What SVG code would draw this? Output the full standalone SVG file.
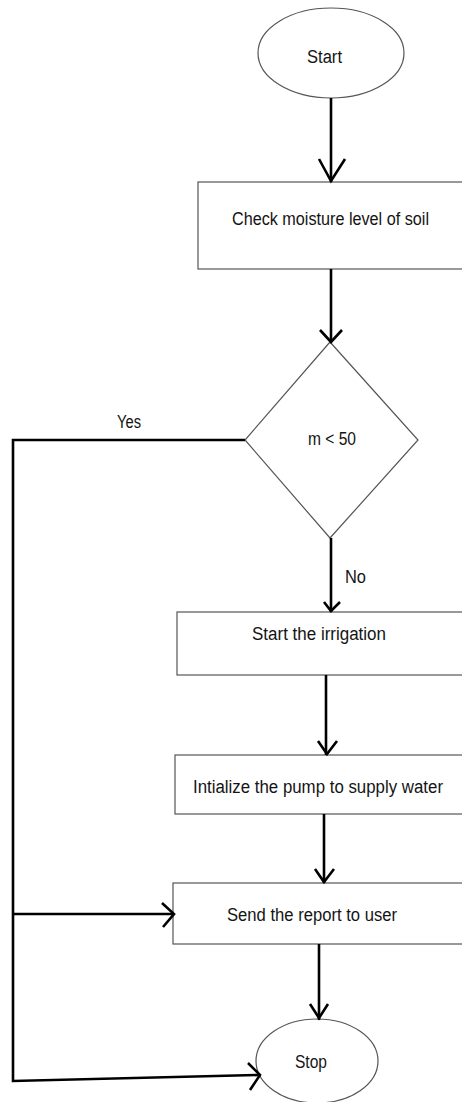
<svg xmlns="http://www.w3.org/2000/svg" width="462" height="1102" viewBox="0 0 462 1102">
<style>
.shape{fill:#fff;stroke:#555;stroke-width:1.2}
.t{font-family:"Liberation Sans",Arial,sans-serif;font-size:18px;fill:#141414}
.c{fill:none;stroke:#000;stroke-width:2.6;stroke-linejoin:miter}
.ah{fill:none;stroke:#000;stroke-width:2.6;stroke-linecap:butt}
</style>
<rect width="462" height="1102" fill="#fff"/>
<g id="start"><ellipse class="shape" cx="331" cy="53" rx="73" ry="45"/><text class="t" x="307" y="63" textLength="35" lengthAdjust="spacingAndGlyphs">Start</text></g>
<g id="check"><rect class="shape" x="198" y="182" width="270" height="87"/><text class="t" x="232" y="225" textLength="197" lengthAdjust="spacingAndGlyphs">Check moisture level of soil</text></g>
<g id="decision"><polygon class="shape" points="330,342 418,440 330,538 245,440"/><text class="t" x="308" y="445" textLength="48" lengthAdjust="spacingAndGlyphs">m &lt; 50</text></g>
<g id="irrigation"><rect class="shape" x="177" y="612" width="291" height="63"/><text class="t" x="252" y="640" textLength="134" lengthAdjust="spacingAndGlyphs">Start the irrigation</text></g>
<g id="pump"><rect class="shape" x="175" y="755" width="293" height="59"/><text class="t" x="193" y="793" textLength="250" lengthAdjust="spacingAndGlyphs">Intialize the pump to supply water</text></g>
<g id="report"><rect class="shape" x="173" y="883" width="295" height="61"/><text class="t" x="227" y="921" textLength="170" lengthAdjust="spacingAndGlyphs">Send the report to user</text></g>
<g id="stop"><ellipse class="shape" cx="317" cy="1061" rx="61" ry="42"/><text class="t" x="295" y="1068" textLength="32" lengthAdjust="spacingAndGlyphs">Stop</text></g>
<g id="connectors">
<line class="c" x1="331" y1="98" x2="331" y2="182"/><polyline class="ah" points="319,159 331,181 345,159"/>
<line class="c" x1="331" y1="269" x2="331" y2="342"/><polyline class="ah" points="320,330 331,342 342,330"/>
<polyline class="c" points="245,440 13,440 13,1081 258,1075"/>
<polyline class="ah" points="248,1063 260,1075 250,1090"/>
<line class="c" x1="13" y1="914" x2="174" y2="914"/><polyline class="ah" points="162,903 174,914 163,927"/>
<line class="c" x1="331" y1="538" x2="331" y2="612"/><polyline class="ah" points="324,602 331,611 340,602"/>
<line class="c" x1="326" y1="675" x2="326" y2="755"/><polyline class="ah" points="318,741 327,754 337,741"/>
<line class="c" x1="324" y1="814" x2="324" y2="883"/><polyline class="ah" points="315,869 324,882 334,869"/>
<line class="c" x1="319" y1="944" x2="319" y2="1020"/><polyline class="ah" points="310,1004 319,1018 328,1004"/>
<text class="t" x="117" y="428" textLength="24" lengthAdjust="spacingAndGlyphs">Yes</text>
<text class="t" x="345" y="583" textLength="21" lengthAdjust="spacingAndGlyphs">No</text>
</g>
</svg>
